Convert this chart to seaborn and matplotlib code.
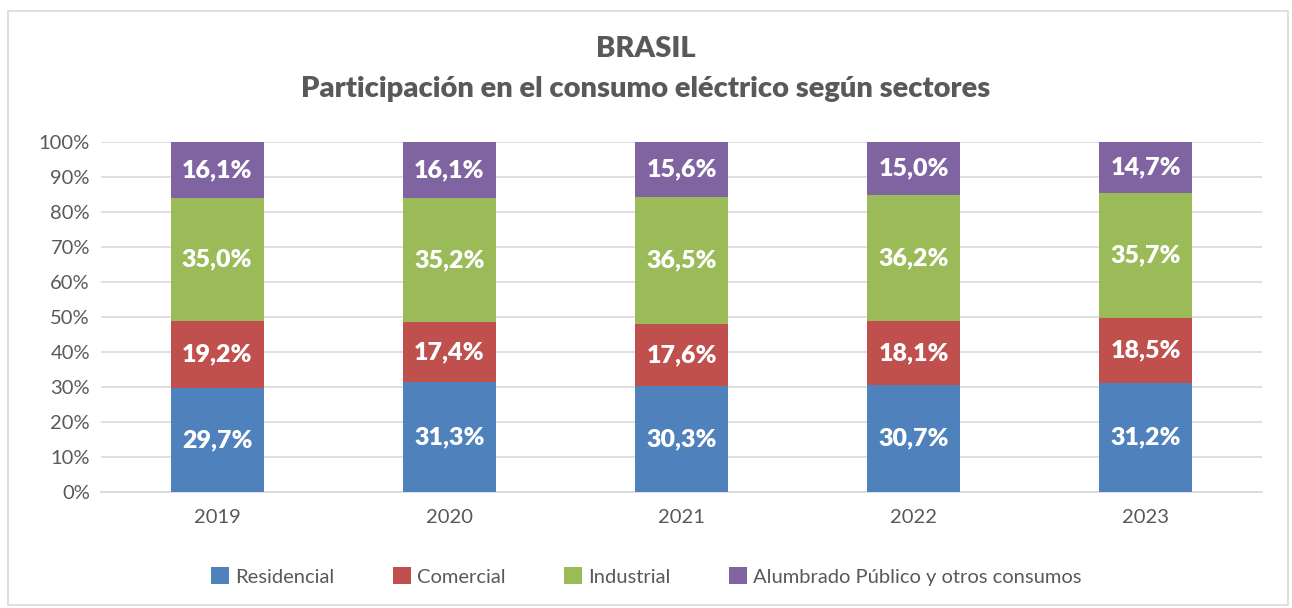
import matplotlib.pyplot as plt
import numpy as np
import pandas as pd
import seaborn as sns
from matplotlib.patches import Patch, Rectangle

years = ["2019", "2020", "2021", "2022", "2023"]
sectors = ["Residencial", "Comercial", "Industrial", "Alumbrado Público y otros consumos"]
residencial = [29.7, 31.3, 30.3, 30.7, 31.2]
comercial = [19.2, 17.4, 17.6, 18.1, 18.5]
industrial = [35.0, 35.2, 36.5, 36.2, 35.7]
alumbrado = [16.1, 16.1, 15.6, 15.0, 14.7]
colors = ["#4F81BD", "#C0504D", "#9BBB59", "#8064A2"]

TEXT = "#595959"
FONT = ["Lato", "DejaVu Sans"]


def main() -> None:
    sns.set_theme(style="white")
    plt.rcParams["font.family"] = FONT

    series = [residencial, comercial, industrial, alumbrado]
    df = pd.DataFrame({"year": years})
    cum = np.zeros(len(years))
    cum_cols = []
    for name, vals in zip(sectors, series):
        cum = cum + np.array(vals)
        df[name] = vals
        df[name + "_cum"] = cum.copy()
        cum_cols.append(name + "_cum")

    fig = plt.figure(figsize=(12.92, 6.08), dpi=100)
    ax = fig.add_axes([0.0782, 0.1908, 0.8986, 0.5756])

    # draw cumulative bars from top layer down so each hides the rest
    for col, color in reversed(list(zip(cum_cols, colors))):
        sns.barplot(data=df, x="year", y=col, color=color, width=0.4,
                    saturation=1, linewidth=0, ax=ax, zorder=3)

    for i in range(len(years)):
        base = 0.0
        for vals in series:
            v = vals[i]
            ax.text(i, base + v / 2, f"{v:.1f}%".replace(".", ","), ha="center",
                    va="center", color="white", fontsize=18, fontweight="heavy", zorder=5)
            base += v

    ax.set_ylim(0, 100)
    ax.set_xlim(-0.5, len(years) - 0.5)
    ax.set_yticks(np.arange(0, 101, 10))
    ax.set_yticklabels([f"{t}%" for t in range(0, 101, 10)])
    ax.yaxis.grid(True, color="#D9D9D9", linewidth=1.2, zorder=0)
    ax.set_axisbelow(True)
    ax.set_xlabel("")
    ax.set_ylabel("")
    for s in ["top", "right", "left"]:
        ax.spines[s].set_visible(False)
    ax.spines["bottom"].set_color("#D9D9D9")
    ax.spines["bottom"].set_linewidth(1.2)
    ax.tick_params(axis="both", length=0, labelsize=14.5, labelcolor=TEXT)
    ax.tick_params(axis="x", pad=12)
    ax.tick_params(axis="y", pad=8)

    fig.text(0.5, 0.919, "BRASIL", ha="center", va="center", fontsize=21,
             fontweight="heavy", color=TEXT)
    fig.text(0.5, 0.853, "Participación en el consumo eléctrico según sectores",
             ha="center", va="center", fontsize=21, fontweight="heavy", color=TEXT)

    handles = [Patch(facecolor=c, edgecolor="none") for c in colors]
    fig.legend(handles, sectors, loc="center", bbox_to_anchor=(0.5, 0.052), ncol=4,
               frameon=False, fontsize=14.5, labelcolor=TEXT, handlelength=0.9,
               handleheight=0.9, handletextpad=0.3, columnspacing=2.9)

    fig.patches.append(Rectangle((8 / 1292, 3 / 608), 1280 / 1292, 594 / 608,
                                 transform=fig.transFigure, fill=False,
                                 edgecolor="#D9D9D9", linewidth=1.2))

    fig.savefig("out.png", dpi=100)
    plt.close(fig)


if __name__ == "__main__":
    main()
